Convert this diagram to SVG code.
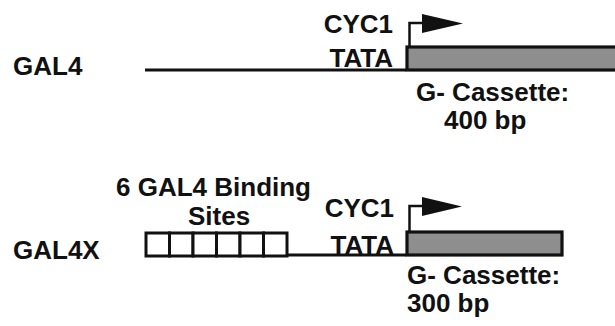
<svg xmlns="http://www.w3.org/2000/svg" width="615" height="326" viewBox="0 0 615 326">
  <style>
    .lbl { font-family: "Liberation Sans", Arial, Helvetica, sans-serif; font-weight: bold; font-size: 26px; fill: #111; }
    .end { text-anchor: end; }
    .dna { stroke: #111; stroke-width: 3.2; fill: none; }
    .cassette { fill: #8e8e8e; stroke: #111; stroke-width: 3.2; }
    .site { fill: #fff; stroke: #111; stroke-width: 3; }
    .tss { stroke: #111; stroke-width: 2.5; fill: none; }
    .head { fill: #111; }
  </style>
  <rect width="615" height="326" fill="#fff"/>

  <!-- GAL4 construct -->
  <g id="gal4">
    <text class="lbl" x="13" y="75">GAL4</text>
    <line class="dna" x1="145" y1="70" x2="406" y2="70"/>
    <rect class="cassette" x="407" y="47" width="212" height="23"/>
    <text class="lbl end" x="393" y="33">CYC1</text>
    <text class="lbl end" x="393" y="67">TATA</text>
    <text class="lbl" x="416" y="101">G- Cassette:</text>
    <text class="lbl" x="444" y="129">400 bp</text>
  </g>

  <!-- GAL4X construct -->
  <g id="gal4x">
    <text class="lbl" x="13" y="259">GAL4X</text>
    <text class="lbl" x="116" y="196">6 GAL4 Binding</text>
    <text class="lbl" x="188" y="225">Sites</text>
    <g id="binding-sites">
      <rect class="site" x="146" y="233" width="23.5" height="23"/>
      <rect class="site" x="169.5" y="233" width="23.5" height="23"/>
      <rect class="site" x="193" y="233" width="23.5" height="23"/>
      <rect class="site" x="216.5" y="233" width="23.5" height="23"/>
      <rect class="site" x="240" y="233" width="23.5" height="23"/>
      <rect class="site" x="263.5" y="233" width="23.5" height="23"/>
    </g>
    <line class="dna" x1="287" y1="255" x2="406" y2="255"/>
    <rect class="cassette" x="407" y="232" width="155" height="23"/>
    <text class="lbl end" x="394" y="217">CYC1</text>
    <text class="lbl end" x="394" y="254">TATA</text>
    <text class="lbl" x="407" y="284">G- Cassette:</text>
    <text class="lbl" x="407" y="312">300 bp</text>
  </g>

  <!-- transcription start arrows -->
  <g id="connectors">
    <path class="tss" d="M409.5 47 V23 H425"/>
    <polygon class="head" points="422,14 463,23.5 422,33"/>
    <path class="tss" d="M409.5 232 V206 H425"/>
    <polygon class="head" points="422,197 462,206.5 422,216"/>
  </g>
</svg>
